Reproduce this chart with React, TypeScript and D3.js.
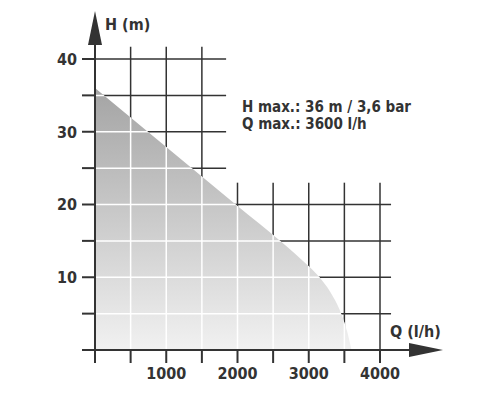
import * as d3 from "d3"

// pump curve: flow Q (l/h) vs head H (m)
const curveQ = [0, 1000, 2000, 2600, 3000, 3150, 3300, 3455, 3540, 3600]
const curveH = [36, 27.9, 19.8, 15, 11.5, 10, 8, 5, 2.5, 0]

const xTickValues = [0, 500, 1000, 1500, 2000, 2500, 3000, 3500, 4000]
const xTickLabels = ["", "", "1000", "", "2000", "", "3000", "", "4000"]
const yTickValues = [5, 10, 15, 20, 25, 30, 35, 40]
const yTickLabels = ["", "10", "", "20", "", "30", "", "40"]

const infoLines = ["H max.: 36 m / 3,6 bar", "Q max.: 3600 l/h"]

const W = 500
const H = 400
const FONT = "'Liberation Sans Narrow', 'DejaVu Sans Condensed', Arial, sans-serif"
const INK = "#333"

export default function App() {
  const x = d3.scaleLinear().domain([0, 4000]).range([95, 380])
  const y = d3.scaleLinear().domain([0, 40]).range([350, 59])

  const pts: [number, number][] = curveQ.map((q, i) => [q, curveH[i]])
  const area = d3.area<[number, number]>()
    .x(d => x(d[0]))
    .y0(y(0))
    .y1(d => y(d[1]))
    .curve(d3.curveMonotoneX)
  const areaPath = area(pts) || ""

  // dark grid: upper-left block and lower-right block
  const upperV = xTickValues.filter(v => v > 0 && v <= 1500)
  const lowerV = xTickValues.filter(v => v >= 2000)
  const upperH = yTickValues.filter(v => v >= 25)
  const lowerH = yTickValues.filter(v => v <= 20)

  const innerV = xTickValues.filter(v => v > 0 && v < 4000)
  const innerH = yTickValues.filter(v => v < 40)

  return (
    <svg width={W} height={H} style={{ position: "absolute", left: 0, top: 0, background: "#fff" }}>
      <defs>
        <linearGradient id="fillGrad" gradientUnits="userSpaceOnUse" x1="0" y1={y(36)} x2="0" y2={y(0)}>
          <stop offset="0" stopColor="#a4a4a4" />
          <stop offset="1" stopColor="#f1f1f1" />
        </linearGradient>
        <clipPath id="areaClip">
          <path d={areaPath} />
        </clipPath>
      </defs>

      {/* dark grid */}
      <g stroke={INK} strokeWidth={1.5}>
        {upperV.map(v => (
          <line key={"uv" + v} x1={x(v)} x2={x(v)} y1={y(41.7)} y2={y(0)} />
        ))}
        {upperH.map(v => (
          <line key={"uh" + v} x1={x(0)} x2={x(1840)} y1={y(v)} y2={y(v)} />
        ))}
        {lowerV.map(v => (
          <line key={"lv" + v} x1={x(v)} x2={x(v)} y1={y(23)} y2={y(0)} />
        ))}
        {lowerH.map(v => (
          <line key={"lh" + v} x1={x(0)} x2={x(4155)} y1={y(v)} y2={y(v)} />
        ))}
      </g>

      {/* performance area */}
      <path d={areaPath} fill="url(#fillGrad)" />

      {/* white grid inside the area */}
      <g stroke="#fff" strokeWidth={1.5} clipPath="url(#areaClip)">
        {innerV.map(v => (
          <line key={"wv" + v} x1={x(v)} x2={x(v)} y1={y(40)} y2={y(0)} />
        ))}
        {innerH.map(v => (
          <line key={"wh" + v} x1={x(0)} x2={x(4000)} y1={y(v)} y2={y(v)} />
        ))}
      </g>

      {/* axes */}
      <g stroke={INK} strokeWidth={2}>
        <line x1={x(0)} x2={x(0)} y1={y(0) + 13} y2={44} />
        <line x1={x(0) - 13} x2={411} y1={y(0)} y2={y(0)} />
        {xTickValues.map(v => (
          <line key={"xt" + v} x1={x(v)} x2={x(v)} y1={y(0)} y2={y(0) + 13} />
        ))}
        {yTickValues.map(v => (
          <line key={"yt" + v} x1={x(0) - 13} x2={x(0)} y1={y(v)} y2={y(v)} />
        ))}
      </g>
      <path d={`M${x(0)},11 L${x(0) - 7},45 L${x(0) + 7},45 Z`} fill={INK} />
      <path d={`M443,${y(0)} L409,${y(0) - 7} L409,${y(0) + 7} Z`} fill={INK} />

      {/* tick labels */}
      <g fontFamily={FONT} fontWeight="bold" fontSize={16} fill={INK}>
        {xTickValues.map((v, i) => (
          <text key={"xl" + v} x={x(v)} y={379} textAnchor="middle">{xTickLabels[i]}</text>
        ))}
        {yTickValues.map((v, i) => (
          <text key={"yl" + v} x={77} y={y(v)} dy="0.36em" textAnchor="end">{yTickLabels[i]}</text>
        ))}
        <text x={105} y={30}>H (m)</text>
        <text x={390} y={337}>Q (l/h)</text>
        {infoLines.map((t, i) => (
          <text key={t} x={242} y={112 + i * 17} fontSize={15}>{t}</text>
        ))}
      </g>
    </svg>
  )
}
